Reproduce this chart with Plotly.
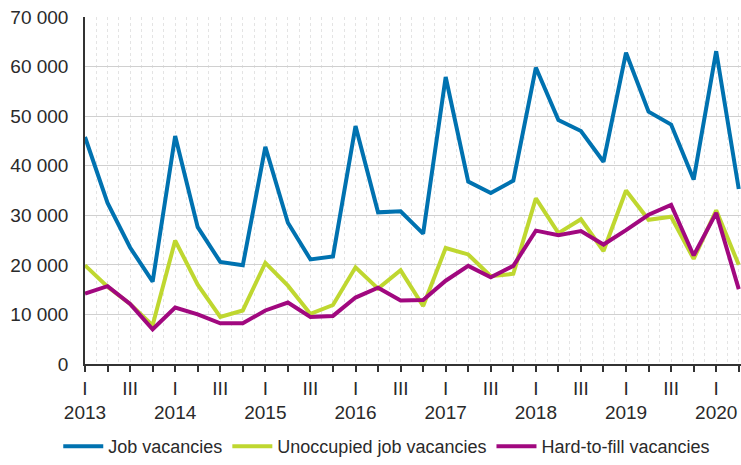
import plotly.graph_objects as go

years = list(range(2013, 2021))
quarters = ["I", "II", "III", "IV"]
n_points = 30

job_vacancies = [45800, 32500, 23500, 16600, 46000, 27600, 20600, 19900,
                 43800, 28500, 21100, 21700, 48000, 30600, 30800, 26300,
                 57900, 36800, 34500, 37000, 59800, 49200, 47000, 40800,
                 62800, 50900, 48300, 37200, 63100, 35300]
unoccupied = [19900, 15600, 12100, 7800, 24900, 16000, 9500, 10800,
              20400, 15800, 10100, 11900, 19500, 15200, 18900, 11700,
              23400, 22100, 17700, 18200, 33400, 26400, 29200, 22800,
              35000, 29100, 29700, 21200, 31000, 20000]
hard_to_fill = [14200, 15700, 12100, 7000, 11400, 10000, 8200, 8200,
                10800, 12400, 9500, 9700, 13400, 15400, 12800, 12900,
                16800, 19800, 17500, 19800, 26900, 26000, 26800, 24100,
                27000, 30100, 32100, 21900, 30500, 15100]

x = list(range(n_points))
ticktext = []
for i in x:
    q = i % 4
    if q == 0:
        ticktext.append("I<br>" + str(years[i // 4]))
    elif q == 2:
        ticktext.append("III")
    else:
        ticktext.append("")

fig = go.Figure()
series = [("Job vacancies", job_vacancies, "#0072B0"),
          ("Unoccupied job vacancies", unoccupied, "#BFD730"),
          ("Hard-to-fill vacancies", hard_to_fill, "#A1087F")]
for name, vals, col in series:
    fig.add_trace(go.Scatter(x=x, y=vals, name=name, mode="lines",
                             line=dict(color=col, width=4)))

fig.update_layout(
    width=741, height=465,
    margin=dict(l=85, r=0, t=17, b=101),
    plot_bgcolor="white", paper_bgcolor="white",
    separators=". ",
    font=dict(family="Liberation Sans, Arial, sans-serif", size=19, color="#2a2a2a"),
    showlegend=True,
    legend=dict(orientation="h", x=0.46, xanchor="center", y=-0.239, yanchor="middle",
                font=dict(size=18), itemwidth=40, tracegroupgap=0),
)
fig.update_xaxes(
    range=[0, 29.1], tickvals=x, ticktext=ticktext, automargin=False,
    ticks="outside", ticklen=6, tickcolor="#333333", tickwidth=1.5,
    showline=True, linecolor="#333333", linewidth=1.5,
    showgrid=True, gridcolor="#e4e4e4", griddash="dot", gridwidth=1,
    minor=dict(dtick=0.5, tick0=0, showgrid=True, gridcolor="#e4e4e4", griddash="dot", ticks=""),
    zeroline=False, tickfont=dict(size=19), ticklabelstandoff=0,
)
fig.update_yaxes(
    range=[0, 70000], dtick=10000, tickformat=",d", automargin=False,
    showline=True, linecolor="#333333", linewidth=1.5,
    showgrid=True, gridcolor="#d0d0d0", gridwidth=1,
    zeroline=False, tickfont=dict(size=19), ticks="", ticklabelstandoff=11,
)
fig.write_html("out.html", config={"displayModeBar": False},
               post_script="document.body.style.margin='0';document.body.style.overflow='hidden';")
